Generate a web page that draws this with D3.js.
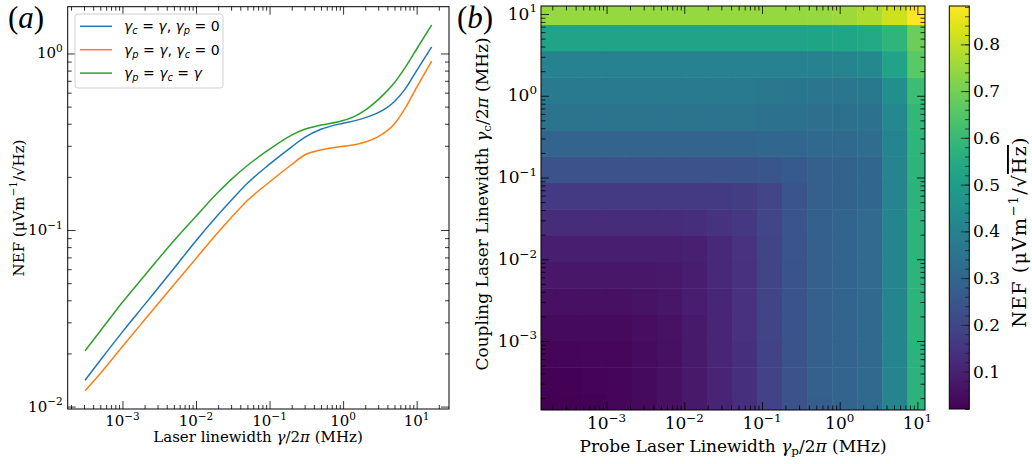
<!DOCTYPE html>
<html>
<head>
<meta charset="utf-8">
<script src="https://cdn.jsdelivr.net/npm/d3@7"></script>
<style>
  body { margin: 0; background: #fff; }
  svg text { font-family: "DejaVu Serif", serif; fill: #000; }
</style>
</head>
<body>
<div id="chart"></div>
<script>
// ---- (a) NEF vs laser linewidth ----
const linewidth = [3.1e-4, 5e-4, 1e-3, 2e-3, 5e-3, 1e-2, 2e-2, 3e-2, 5e-2, 0.1, 0.2, 0.3, 0.5, 1, 1.5, 2, 3, 5, 7, 10, 16];
const nefCoupling = [0.0141, 0.0183, 0.0265, 0.0378, 0.0605, 0.087, 0.122, 0.147, 0.184, 0.236, 0.296, 0.335, 0.372, 0.403, 0.418, 0.433, 0.462, 0.535, 0.63, 0.8, 1.09];
const nefProbe = [0.0123, 0.0154, 0.0219, 0.031, 0.049, 0.069, 0.097, 0.1174, 0.147, 0.187, 0.235, 0.266, 0.284, 0.298, 0.305, 0.315, 0.338, 0.4, 0.49, 0.643, 0.906];
const nefBoth = [0.0207, 0.0268, 0.039, 0.0552, 0.087, 0.1197, 0.1635, 0.193, 0.232, 0.287, 0.345, 0.372, 0.393, 0.417, 0.445, 0.478, 0.548, 0.685, 0.835, 1.06, 1.45];
const decadeTicks = [-3, -2, -1, 0, 1];
const nefTicks = [-2, -1, 0];

// ---- (b) NEF map, rows = coupling linewidth (ascending), cols = probe linewidth (ascending) ----
const gammaGrid = [1.563e-4, 3.289e-4, 6.902e-4, 1.452e-3, 3.048e-3, 6.412e-3, 1.346e-2, 2.831e-2, 5.943e-2, 0.125, 0.2624, 0.5521, 1.161, 2.438, 5.129, 10.76];
const gammaLim = [1.432e-4, 12.53];
const nefMap = [
  [0.020, 0.022, 0.025, 0.031, 0.042, 0.055, 0.075, 0.105, 0.140, 0.190, 0.238, 0.275, 0.295, 0.310, 0.410, 0.575],
  [0.025, 0.025, 0.027, 0.032, 0.043, 0.056, 0.076, 0.106, 0.140, 0.190, 0.238, 0.276, 0.295, 0.311, 0.410, 0.575],
  [0.033, 0.033, 0.034, 0.036, 0.045, 0.057, 0.078, 0.108, 0.141, 0.191, 0.239, 0.276, 0.296, 0.311, 0.411, 0.575],
  [0.042, 0.042, 0.042, 0.042, 0.047, 0.058, 0.080, 0.110, 0.142, 0.192, 0.240, 0.277, 0.296, 0.312, 0.411, 0.576],
  [0.055, 0.055, 0.055, 0.057, 0.062, 0.068, 0.085, 0.112, 0.143, 0.193, 0.241, 0.277, 0.297, 0.312, 0.411, 0.576],
  [0.072, 0.072, 0.072, 0.072, 0.073, 0.075, 0.088, 0.115, 0.145, 0.194, 0.242, 0.278, 0.297, 0.313, 0.412, 0.576],
  [0.092, 0.092, 0.092, 0.092, 0.093, 0.094, 0.096, 0.120, 0.148, 0.196, 0.243, 0.279, 0.298, 0.313, 0.412, 0.577],
  [0.125, 0.125, 0.125, 0.125, 0.125, 0.127, 0.133, 0.145, 0.160, 0.200, 0.245, 0.280, 0.299, 0.314, 0.413, 0.577],
  [0.162, 0.162, 0.162, 0.162, 0.162, 0.162, 0.163, 0.166, 0.172, 0.200, 0.246, 0.276, 0.292, 0.305, 0.410, 0.575],
  [0.236, 0.236, 0.236, 0.236, 0.236, 0.236, 0.237, 0.238, 0.240, 0.244, 0.262, 0.278, 0.290, 0.300, 0.410, 0.578],
  [0.296, 0.296, 0.296, 0.296, 0.296, 0.296, 0.296, 0.297, 0.297, 0.300, 0.302, 0.310, 0.310, 0.320, 0.412, 0.580],
  [0.348, 0.348, 0.348, 0.348, 0.348, 0.348, 0.348, 0.348, 0.348, 0.345, 0.340, 0.330, 0.335, 0.340, 0.425, 0.590],
  [0.373, 0.373, 0.373, 0.373, 0.373, 0.373, 0.373, 0.373, 0.373, 0.365, 0.360, 0.355, 0.360, 0.370, 0.450, 0.610],
  [0.400, 0.400, 0.400, 0.400, 0.400, 0.400, 0.400, 0.400, 0.400, 0.400, 0.400, 0.402, 0.410, 0.425, 0.520, 0.660],
  [0.520, 0.520, 0.520, 0.520, 0.520, 0.520, 0.520, 0.520, 0.520, 0.520, 0.520, 0.522, 0.530, 0.540, 0.580, 0.690],
  [0.744, 0.744, 0.744, 0.744, 0.744, 0.744, 0.744, 0.744, 0.744, 0.744, 0.744, 0.746, 0.755, 0.775, 0.815, 0.882]
];
const cbarTicks = [0.1, 0.2, 0.3, 0.4, 0.5, 0.6, 0.7, 0.8];

const width = 1032, height = 464;
const FS = 15;   // panel (a) text
const FSB = 17;  // panel (b) text

const svg = d3.select("#chart").append("svg")
  .attr("width", width).attr("height", height);

// text with sub/superscripts
function rich(text, parts, fs) {
  let off = 0;
  parts.forEach((p) => {
    const shift = p.sup ? -0.42 * fs : p.sub ? 0.2 * fs : 0;
    const ts = text.append("tspan").text(p.t).attr("dy", shift - off);
    off = shift;
    if (p.sup || p.sub) ts.attr("font-size", fs * 0.7);
    if (p.it) ts.attr("font-style", "italic");
    if (p.over) ts.style("text-decoration", "overline");
  });
  return text;
}

const padLog = ([lo, hi]) => {
  const l0 = Math.log10(lo), l1 = Math.log10(hi), p = (l1 - l0) * 0.05;
  return [10 ** (l0 - p), 10 ** (l1 + p)];
};

const minorLog = (domain) => {
  const out = [];
  for (let e = Math.floor(Math.log10(domain[0])); e <= Math.ceil(Math.log10(domain[1])); e++) {
    for (let m = 2; m <= 9; m++) {
      const v = m * 10 ** e;
      if (v >= domain[0] && v <= domain[1]) out.push(v);
    }
  }
  return out;
};

// inward ticks on all four sides + decade labels
function logAxes(g, x, y, xMaj, yMaj, opt) {
  const [x0, x1] = x.range(), [y0, y1] = y.range();
  const sides = [
    [d3.axisBottom, x, `translate(0,${y0})`, xMaj],
    [d3.axisTop, x, `translate(0,${y1})`, xMaj],
    [d3.axisLeft, y, `translate(${x0},0)`, yMaj],
    [d3.axisRight, y, `translate(${x1},0)`, yMaj]
  ];
  sides.forEach(([ax, sc, tr, maj]) => {
    const mins = minorLog(sc.domain());
    [[maj.map((e) => 10 ** e), -opt.major], [mins, -opt.minor]].forEach(([vals, size]) => {
      const a = g.append("g").attr("transform", tr)
        .call(ax(sc).tickValues(vals).tickSize(size).tickFormat(""));
      a.select(".domain").remove();
      a.selectAll("line").attr("stroke", "#000").attr("stroke-width", 0.8);
    });
  });
  g.append("rect")
    .attr("x", x0).attr("y", y1)
    .attr("width", x1 - x0).attr("height", y0 - y1)
    .attr("fill", "none").attr("stroke", "#000").attr("stroke-width", 1);
  const fs = opt.fs;
  xMaj.forEach((e) => {
    const t = g.append("text").attr("x", x(10 ** e)).attr("y", y0 + opt.xLabelDy)
      .attr("text-anchor", "middle").attr("font-size", fs);
    rich(t, [{ t: "10" }, { t: String(e).replace("-", "\u2212"), sup: true }], fs);
  });
  yMaj.forEach((e) => {
    const t = g.append("text").attr("x", x0 - opt.yLabelDx).attr("y", y(10 ** e) + fs * 0.33)
      .attr("text-anchor", "end").attr("font-size", fs);
    rich(t, [{ t: "10" }, { t: String(e).replace("-", "\u2212"), sup: true }], fs);
  });
}

// ================= panel (a) =================
const ga = svg.append("g");
const xa = d3.scaleLog().domain(padLog(d3.extent(linewidth))).range([67.7, 449]);
const ya = d3.scaleLog()
  .domain(padLog(d3.extent([...nefCoupling, ...nefProbe, ...nefBoth])))
  .range([409, 6.7]);

const series = [
  { values: nefCoupling, color: "#1f77b4",
    label: [{ t: "\u03b3", it: true }, { t: "c", it: true, sub: true }, { t: " = " }, { t: "\u03b3", it: true }, { t: ", " }, { t: "\u03b3", it: true }, { t: "p", it: true, sub: true }, { t: " = 0" }] },
  { values: nefProbe, color: "#ff7f0e",
    label: [{ t: "\u03b3", it: true }, { t: "p", it: true, sub: true }, { t: " = " }, { t: "\u03b3", it: true }, { t: ", " }, { t: "\u03b3", it: true }, { t: "c", it: true, sub: true }, { t: " = 0" }] },
  { values: nefBoth, color: "#2ca02c",
    label: [{ t: "\u03b3", it: true }, { t: "p", it: true, sub: true }, { t: " = " }, { t: "\u03b3", it: true }, { t: "c", it: true, sub: true }, { t: " = " }, { t: "\u03b3", it: true }] }
];

const line = d3.line()
  .x((d) => xa(d[0]))
  .y((d) => ya(d[1]))
  .curve(d3.curveMonotoneX);

series.forEach((s) => {
  ga.append("path")
    .datum(linewidth.map((g, i) => [g, s.values[i]]))
    .attr("fill", "none")
    .attr("stroke", s.color)
    .attr("stroke-width", 1.5)
    .attr("d", line);
});

logAxes(ga, xa, ya, decadeTicks, nefTicks, { major: 8, minor: 4, xLabelDy: 17, yLabelDx: 5, fs: FS });

// legend
const leg = ga.append("g");
leg.append("rect")
  .attr("x", 75).attr("y", 14).attr("width", 148).attr("height", 74).attr("rx", 3)
  .attr("fill", "#fff").attr("fill-opacity", 0.8)
  .attr("stroke", "#d0d0d0").attr("stroke-width", 1);
series.forEach((s, i) => {
  const ly = 26.3 + i * 23.4;
  leg.append("line").attr("x1", 80).attr("x2", 112).attr("y1", ly).attr("y2", ly)
    .attr("stroke", s.color).attr("stroke-width", 1.5);
  const t = leg.append("text").attr("x", 124).attr("y", ly + 5)
    .attr("font-size", 14).style("font-family", "'DejaVu Sans', sans-serif");
  rich(t, s.label, 14);
});

// axis labels (a)
rich(ga.append("text").attr("x", 258).attr("y", 442).attr("text-anchor", "middle").attr("font-size", FS),
  [{ t: "Laser linewidth " }, { t: "\u03b3", it: true }, { t: "/2" }, { t: "\u03c0", it: true }, { t: " (MHz)" }], FS);
rich(ga.append("text").attr("transform", "translate(23.5,208) rotate(-90)").attr("text-anchor", "middle").attr("font-size", FS),
  [{ t: "NEF (\u03bcVm" }, { t: "\u22121", sup: true }, { t: "/\u221aHz)" }], FS);

// ================= panel (b) =================
const gb = svg.append("g");
const xb = d3.scaleLog().domain(gammaLim).range([541, 925]);
const yb = d3.scaleLog().domain(gammaLim).range([410, 6]);
const color = d3.scaleSequential(d3.interpolateViridis).domain(d3.extent(nefMap.flat()));

// cell edges halfway (in log) between neighbouring grid values
const cellEdges = gammaGrid.map((g, i) => {
  const prev = i > 0 ? gammaGrid[i - 1] : g * g / gammaGrid[i + 1];
  const next = i < gammaGrid.length - 1 ? gammaGrid[i + 1] : g * g / gammaGrid[i - 1];
  return [Math.sqrt(prev * g), Math.sqrt(g * next)];
});

gb.append("clipPath").attr("id", "mapClip").append("rect")
  .attr("x", 541).attr("y", 6).attr("width", 384).attr("height", 404);

const cells = [];
nefMap.forEach((row, r) => row.forEach((v, c) => cells.push({ r, c, v })));

gb.append("g").attr("clip-path", "url(#mapClip)")
  .selectAll("rect").data(cells).enter().append("rect")
  .attr("x", (d) => xb(cellEdges[d.c][0]))
  .attr("width", (d) => xb(cellEdges[d.c][1]) - xb(cellEdges[d.c][0]) + 0.5)
  .attr("y", (d) => yb(cellEdges[d.r][1]))
  .attr("height", (d) => yb(cellEdges[d.r][0]) - yb(cellEdges[d.r][1]) + 0.5)
  .attr("fill", (d) => color(d.v));

logAxes(gb, xb, yb, decadeTicks, [-3, -2, -1, 0, 1], { major: 8, minor: 4.5, xLabelDy: 19, yLabelDx: 4, fs: FSB });

rich(gb.append("text").attr("x", 733).attr("y", 452).attr("text-anchor", "middle").attr("font-size", FSB),
  [{ t: "Probe Laser Linewidth " }, { t: "\u03b3", it: true }, { t: "p", sub: true }, { t: "/2" }, { t: "\u03c0", it: true }, { t: " (MHz)" }], FSB);
rich(gb.append("text").attr("transform", "translate(488,204) rotate(-90)").attr("text-anchor", "middle").attr("font-size", FSB),
  [{ t: "Coupling Laser Linewidth " }, { t: "\u03b3", it: true }, { t: "c", sub: true }, { t: "/2" }, { t: "\u03c0", it: true }, { t: " (MHz)" }], FSB);

// ================= colorbar =================
const cb = svg.append("g");
const cbY = d3.scaleLinear().domain(color.domain()).range([409, 6]);
const grad = svg.append("defs").append("linearGradient")
  .attr("id", "viridisGrad").attr("x1", 0).attr("x2", 0).attr("y1", 1).attr("y2", 0);
d3.range(0, 1.0001, 0.05).forEach((t) => {
  grad.append("stop").attr("offset", t).attr("stop-color", d3.interpolateViridis(t));
});
cb.append("rect").attr("x", 949.3).attr("y", 6).attr("width", 20).attr("height", 403)
  .attr("fill", "url(#viridisGrad)");
const cbMinor = d3.range(0.02, color.domain()[1], 0.02).filter((v) => v >= color.domain()[0]);
[[cbMinor, -4.3], [cbarTicks, -8.5]].forEach(([vals, size]) => {
  const a = cb.append("g").attr("transform", "translate(969.3,0)")
    .call(d3.axisRight(cbY).tickValues(vals).tickSize(size).tickFormat(""));
  a.select(".domain").remove();
  a.selectAll("line").attr("stroke", "#222").attr("stroke-width", 0.8);
});
cb.append("rect").attr("x", 949.3).attr("y", 6).attr("width", 20).attr("height", 403)
  .attr("fill", "none").attr("stroke", "#000").attr("stroke-width", 1);
cbarTicks.forEach((v) => {
  cb.append("text").attr("x", 973).attr("y", cbY(v) + 6)
    .attr("font-size", FSB).text(v.toFixed(1));
});
rich(cb.append("text").attr("transform", "translate(1026,232) rotate(-90)").attr("text-anchor", "middle")
    .attr("font-size", 19).attr("letter-spacing", 1.2),
  [{ t: "NEF (\u03bcVm" }, { t: "\u22121", sup: true }, { t: "/\u221a" }, { t: "Hz", over: true }, { t: ")" }], 19);

// panel letters
[["a", 8], ["b", 457]].forEach(([l, x]) => {
  const t = svg.append("text").attr("x", x).attr("y", 28).attr("font-size", 31)
    .style("font-family", "'Liberation Serif', serif");
  t.append("tspan").text("(");
  t.append("tspan").text(l).attr("font-style", "italic");
  t.append("tspan").text(")");
});
</script>
</body>
</html>
